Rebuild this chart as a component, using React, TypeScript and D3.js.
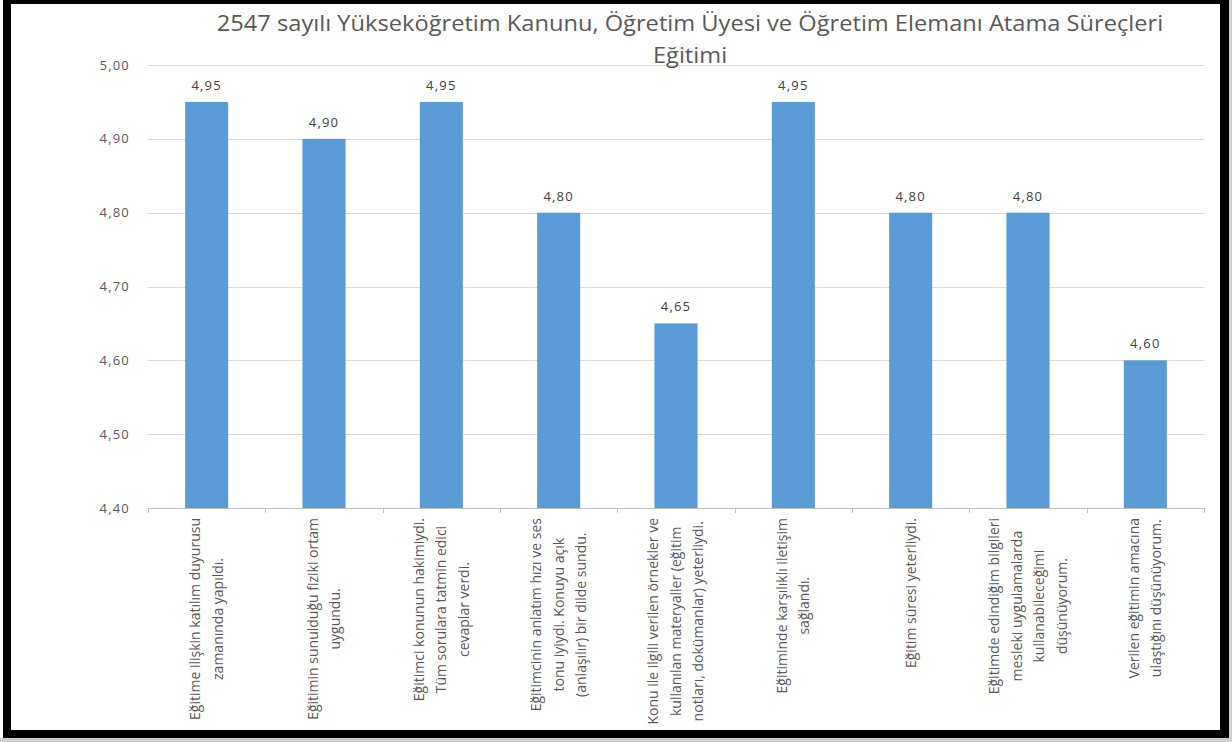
import React, { useEffect, useRef } from "react";
import * as d3 from "d3";

const titleLines = [
  "2547 sayılı Yükseköğretim Kanunu, Öğretim Üyesi ve Öğretim Elemanı Atama Süreçleri",
  "Eğitimi",
];

const categories = [
  ["Eğitime ilişkin katılım duyurusu", "zamanında yapıldı."],
  ["Eğitimin sunulduğu fiziki ortam", "uygundu."],
  ["Eğitimci konunun hakimiydi.", "Tüm sorulara tatmin edici", "cevaplar verdi."],
  ["Eğitimcinin anlatım hızı ve ses", "tonu iyiydi. Konuyu açık", "(anlaşılır) bir dilde sundu."],
  ["Konu ile ilgili verilen örnekler ve", "kullanılan materyaller (eğitim", "notları, dokümanlar) yeterliydi."],
  ["Eğitiminde karşılıklı iletişim", "sağlandı."],
  ["Eğitim süresi yeterliydi."],
  ["Eğitimde edindiğim bilgileri", "mesleki uygulamalarda", "kullanabileceğimi", "düşünüyorum."],
  ["Verilen eğitimin amacına", "ulaştığını düşünüyorum."],
];

const values = [4.95, 4.9, 4.95, 4.8, 4.65, 4.95, 4.8, 4.8, 4.6];

const yTicks = [4.4, 4.5, 4.6, 4.7, 4.8, 4.9, 5.0];

const fmt = (v: number) => d3.format(".2f")(v).replace(".", ",");

export default function App() {
  const ref = useRef<SVGSVGElement>(null);

  useEffect(() => {
    const svg = d3.select(ref.current);
    svg.selectAll("*").remove();
    const W = 1232, H = 742;
    const font = "'Open Sans', sans-serif";

    svg.append("rect").attr("width", W).attr("height", H).attr("fill", "#ffffff");

    const left = 148, right = 1204, top = 65, bottom = 508;
    const x = d3.scaleBand<number>().domain(d3.range(values.length)).range([left, right]).padding(0);
    const y = d3.scaleLinear().domain([4.4, 5.0]).range([bottom, top]);
    const barW = x.bandwidth() * 0.367;

    // gridlines
    svg.append("g")
      .selectAll("line")
      .data(yTicks)
      .enter()
      .append("line")
      .attr("x1", left)
      .attr("x2", right)
      .attr("y1", (d) => Math.round(y(d)) + 0.5)
      .attr("y2", (d) => Math.round(y(d)) + 0.5)
      .attr("stroke", (d) => (d === 4.4 ? "#bfbfbf" : "#d9d9d9"))
      .attr("stroke-width", 1);

    // y labels
    svg.append("g")
      .selectAll("text")
      .data(yTicks)
      .enter()
      .append("text")
      .attr("x", 130)
      .attr("y", (d) => y(d))
      .attr("dy", "0.35em")
      .attr("text-anchor", "end")
      .attr("font-family", font)
      .attr("font-size", 13)
      .attr("letter-spacing", 1.2)
      .attr("fill", "#595959")
      .text((d) => fmt(d));

    // x ticks
    svg.append("g")
      .selectAll("line")
      .data(d3.range(values.length + 1))
      .enter()
      .append("line")
      .attr("x1", (i) => Math.round(left + i * x.step()) + 0.5)
      .attr("x2", (i) => Math.round(left + i * x.step()) + 0.5)
      .attr("y1", bottom)
      .attr("y2", bottom + 5)
      .attr("stroke", "#bfbfbf");

    // bars
    svg.append("g")
      .selectAll("rect")
      .data(values)
      .enter()
      .append("rect")
      .attr("x", (d, i) => x(i)! + x.bandwidth() / 2 - barW / 2)
      .attr("y", (d) => y(d))
      .attr("width", barW)
      .attr("height", (d) => bottom - y(d))
      .attr("fill", "#5b9bd5");

    // data labels
    svg.append("g")
      .selectAll("text")
      .data(values)
      .enter()
      .append("text")
      .attr("x", (d, i) => x(i)! + x.bandwidth() / 2)
      .attr("y", (d) => y(d) - 12)
      .attr("text-anchor", "middle")
      .attr("font-family", font)
      .attr("font-size", 13)
      .attr("letter-spacing", 1.2)
      .attr("fill", "#404040")
      .text((d) => fmt(d));

    // category labels, rotated
    const lineGap = 22.5;
    categories.forEach((lines, i) => {
      const cx = x(i)! + x.bandwidth() / 2;
      const g = svg.append("g").attr("transform", `translate(${cx},0) rotate(-90)`);
      const texts = lines.map((ln) =>
        g.append("text")
          .attr("font-family", font)
          .attr("font-size", 14)
          .attr("fill", "#595959")
          .attr("text-anchor", "middle")
          .text(ln)
      );
      const maxW = d3.max(texts, (t) => (t.node() as SVGTextElement).getComputedTextLength()) || 0;
      const mid = -(518 + maxW / 2);
      texts.forEach((t, k) => {
        t.attr("x", mid).attr("y", (k - (lines.length - 1) / 2) * lineGap).attr("dy", "0.35em");
      });
    });

    // title
    svg.append("g")
      .attr("transform", "translate(690,0) scale(1.1,1)")
      .selectAll("text")
      .data(titleLines)
      .enter()
      .append("text")
      .attr("x", 0)
      .attr("y", (d, i) => 31 + i * 32)
      .attr("text-anchor", "middle")
      .attr("font-family", font)
      .attr("font-size", 21.5)
      .attr("fill", "#595959")
      .text((d) => d);

    // frame (drawn last so it clips overflowing labels)
    svg.append("rect").attr("x", 1229).attr("y", 0).attr("width", 3).attr("height", H).attr("fill", "#d0d0d0");
    svg.append("rect").attr("x", 0).attr("y", 738).attr("width", W).attr("height", 4).attr("fill", "#d0d0d0");
    svg.append("path")
      .attr("fill-rule", "evenodd")
      .attr("fill", "#000")
      .attr("d", "M3,0H1229V738H3Z M11,4V730H1220V4Z");
  }, []);

  return (
    <svg
      ref={ref}
      width={1232}
      height={742}
      style={{ position: "absolute", left: 0, top: 0, display: "block" }}
    />
  );
}
